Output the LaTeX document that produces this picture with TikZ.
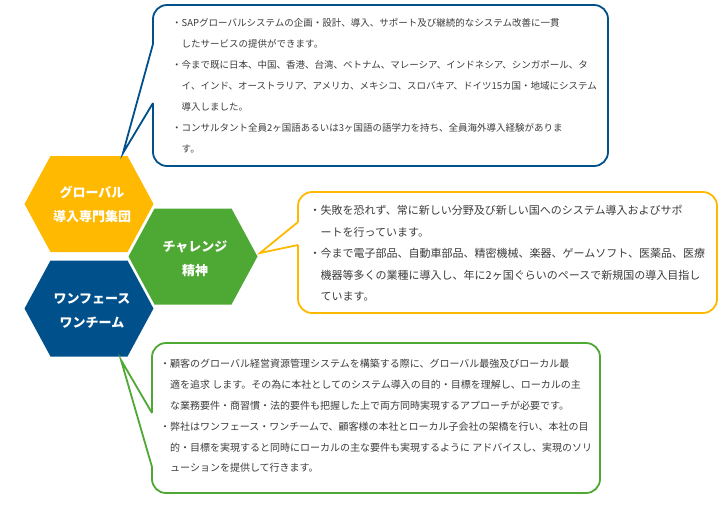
\documentclass[tikz,border=0pt]{standalone}
\usepackage{fontspec}
\newfontfamily\jpfont{Noto Sans CJK JP}
\usepackage{xcolor}

\definecolor{hexyellow}{RGB}{255,185,0}
\definecolor{hexgreen}{RGB}{78,168,52}
\definecolor{hexblue}{RGB}{0,80,140}
\definecolor{textgray}{RGB}{60,60,60}

\tikzset{
    hexlabel/.style={text=white, font=\jpfont\bfseries\fontsize{13}{24}\selectfont, align=center, inner sep=0pt},
    bullets/.style={text=textgray, font=\jpfont\fontsize{10}{21}\selectfont, align=left, inner sep=0pt, anchor=west},
    callout/.style={line width=1.8pt, rounded corners=14pt, fill=white},
    wedge/.style={line width=1.8pt},
}

\begin{document}
\begin{tikzpicture}[x=1pt, y=-1pt]
        \useasboundingbox (0,0) rectangle (719,520);

        % Hexagons
        \foreach \col/\x/\y in {hexyellow/89/204, hexgreen/193/256.5, hexblue/89/308.5}
        {
            \fill[\col] (\x-64.5,\y) -- (\x-38.5,\y-48) -- (\x+38.5,\y-48) -- (\x+64.5,\y)
                -- (\x+38.5,\y+48) -- (\x-38.5,\y+48) -- cycle;
        }

        % Hexagon labels
        \node[hexlabel] (global) at (92,204) {グローバル\\導入専門集団};
        \node[hexlabel] (challenge) at (195,258.5) {チャレンジ\\精神};
        \node[hexlabel] (oneface) at (92,310.5) {ワンフェース\\ワンチーム};

        % Callout tips
        \coordinate (globaltip) at (123,153);
        \coordinate (challengetip) at (260,253);
        \coordinate (onefacetip) at (121,360);

        % Blue callout
        \draw[callout, draw=hexblue] (153,5) rectangle (608,166);
        \fill[white] (156,44) -- (153,44) -- (globaltip) -- (153,103) -- (156,103) -- cycle;
        \draw[wedge, hexblue] (153,44) -- (globaltip) -- (153,103);

        % Yellow callout
        \draw[callout, draw=hexyellow] (298,192) rectangle (717,313);
        \fill[white] (301,222) -- (298,222) -- (challengetip) -- (298,245) -- (301,245) -- cycle;
        \draw[wedge, hexyellow] (298,222) -- (challengetip) -- (298,245);

        % Green callout
        \draw[callout, draw=hexgreen] (152,343) rectangle (600,493);
        \fill[white] (155,413) -- (152,413) -- (onefacetip) -- (152,467) -- (155,467) -- cycle;
        \draw[wedge, hexgreen] (152,413) -- (onefacetip) -- (152,467);

        % Callout texts
        \node[bullets, font=\jpfont\fontsize{9.5}{21}\selectfont] (globaltext) at (172,86) {%
・SAPグローバルシステムの企画・設計、導入、サポート及び継続的なシステム改善に一貫\\
\hspace*{1em}したサービスの提供ができます。\\
・今まで既に日本、中国、香港、台湾、ベトナム、マレーシア、インドネシア、シンガポール、タ\\
\hspace*{1em}イ、インド、オーストラリア、アメリカ、メキシコ、スロバキア、ドイツ15カ国・地域にシステム\\
\hspace*{1em}導入しました。\\
・コンサルタント全員2ヶ国語あるいは3ヶ国語の語学力を持ち、全員海外導入経験がありま\\
\hspace*{1em}す。};
        \node[bullets, font=\jpfont\fontsize{11}{21.5}\selectfont] (challengetext) at (309.5,253.5) {%
・失敗を恐れず、常に新しい分野及び新しい国へのシステム導入およびサポ\\
\hspace*{1em}ートを行っています。\\
・今まで電子部品、自動車部品、精密機械、楽器、ゲームソフト、医薬品、医療\\
\hspace*{1em}機器等多くの業種に導入し、年に2ヶ国ぐらいのペースで新規国の導入目指し\\
\hspace*{1em}ています。};
        \node[bullets, font=\jpfont\fontsize{10}{20.8}\selectfont] (onefacetext) at (160,416) {%
・顧客のグローバル経営資源管理システムを構築する際に、グローバル最強及びローカル最\\
\hspace*{1em}適を追求 します。その為に本社としてのシステム導入の目的・目標を理解し、ローカルの主\\
\hspace*{1em}な業務要件・商習慣・法的要件も把握した上で両方同時実現するアプローチが必要です。\\
・弊社はワンフェース・ワンチームで、顧客様の本社とローカル子会社の架橋を行い、本社の目\\
\hspace*{1em}的・目標を実現すると同時にローカルの主な要件も実現するように アドバイスし、実現のソリ\\
\hspace*{1em}ューションを提供して行きます。};
    \end{tikzpicture}
\end{document}
